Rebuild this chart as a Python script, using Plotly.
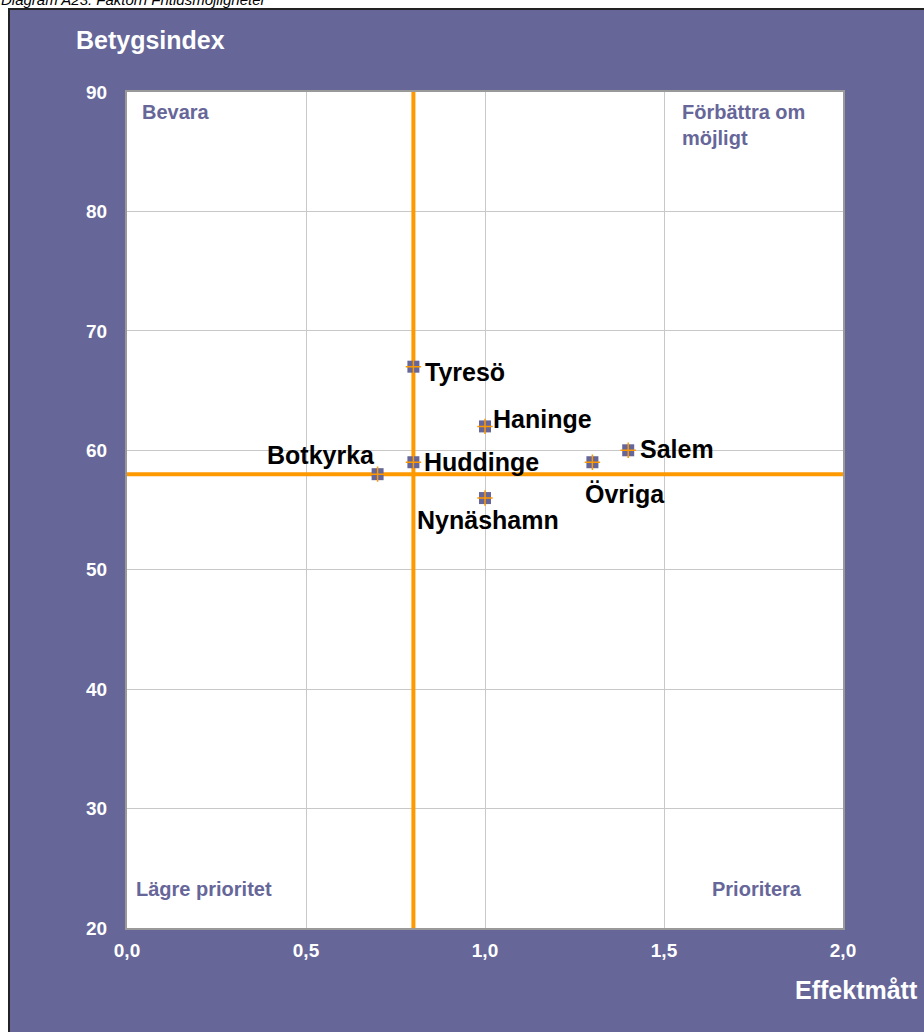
"""Betygsindex mot effektmått – kvadrantdiagram."""

import plotly.graph_objects as go

# Data
kommuner = ["Tyresö", "Haninge", "Salem", "Huddinge", "Övriga", "Botkyrka", "Nynäshamn"]
effektmatt = [0.8, 1.0, 1.4, 0.8, 1.3, 0.7, 1.0]
betygsindex = [67, 62, 60, 59, 59, 58, 56]

snitt_effekt = 0.8
snitt_betyg = 58

x_ticks = [0.0, 0.5, 1.0, 1.5, 2.0]
y_ticks = [20, 30, 40, 50, 60, 70, 80, 90]

PURPLE = "#666699"
ORANGE = "#FF9900"
FONT = "Arial, Liberation Sans, sans-serif"

# Etikettplacering (xanchor, xshift, yshift)
_LABEL_POS = {
    "Tyresö": ("left", 10, -5),
    "Haninge": ("left", 6, 7),
    "Salem": ("left", 10, 1),
    "Huddinge": ("left", 9, 0),
    "Övriga": ("left", -9, -32),
    "Botkyrka": ("right", -1, 19),
    "Nynäshamn": ("center", 3, -22),
}

# Sidans pixlar (sidmarginalen nollställs i post_script)
W, H = 924, 1032
L, R, T, B = 127, 81, 92, 104
pw, ph = W - L - R, H - T - B


def px_x(p):
    return (p - L) / pw


def px_y(p):
    return (H - B - p) / ph


fig = go.Figure()

# Kvadrantlinjer
fig.add_trace(go.Scatter(
    x=[snitt_effekt, snitt_effekt], y=[20, 90], mode="lines",
    line={"color": ORANGE, "width": 4}, hoverinfo="skip", cliponaxis=False,
))
fig.add_trace(go.Scatter(
    x=[0, 2], y=[snitt_betyg, snitt_betyg], mode="lines",
    line={"color": ORANGE, "width": 4}, hoverinfo="skip", cliponaxis=False,
))

# Punkter
fig.add_trace(go.Scatter(
    x=effektmatt, y=betygsindex, mode="markers",
    marker={"symbol": "square", "size": 12, "color": PURPLE, "line": {"width": 0}},
    hovertext=kommuner, hoverinfo="text",
))
fig.add_trace(go.Scatter(
    x=effektmatt, y=betygsindex, mode="markers",
    marker={"symbol": "cross-thin", "size": 11, "line": {"width": 1.5, "color": ORANGE}},
    hoverinfo="skip",
))

annotations = []
for namn, xv, yv in zip(kommuner, effektmatt, betygsindex):
    anchor, xs, ys = _LABEL_POS[namn]
    annotations.append(dict(
        x=xv, y=yv, text=namn, showarrow=False, xanchor=anchor, yanchor="middle",
        xshift=xs, yshift=ys,
        font={"family": FONT, "size": 25, "color": "black", "weight": "bold"},
    ))

# Kvadrantrubriker
quad_font = {"family": FONT, "size": 20, "color": PURPLE, "weight": "bold"}
for txt, xp, yp in [
    ("Bevara", 140, 99),
    ("Förbättra om<br>möjligt", 680, 99),
    ("Lägre prioritet", 134, 876),
    ("Prioritera", 710, 876),
]:
    annotations.append(dict(
        x=px_x(xp), y=px_y(yp), xref="paper", yref="paper", text=txt, showarrow=False,
        xanchor="left", yanchor="top", align="left", font=quad_font,
    ))

# Axeltitlar
title_font = {"family": FONT, "size": 25, "color": "white", "weight": "bold"}
annotations.append(dict(
    x=px_x(74), y=px_y(40), xref="paper", yref="paper", text="Betygsindex",
    showarrow=False, xanchor="left", yanchor="middle", font=title_font,
))
annotations.append(dict(
    x=px_x(920), y=px_y(990), xref="paper", yref="paper", text="Effektmått",
    showarrow=False, xanchor="right", yanchor="middle", font=title_font,
))

# Diagramrubrik (delvis utanför sidans överkant)
annotations.append(dict(
    x=px_x(-1), y=px_y(0), xref="paper", yref="paper",
    text="<i>Diagram A23: Faktorn Fritidsmöjligheter</i>",
    showarrow=False, xanchor="left", yanchor="middle",
    font={"family": FONT, "size": 15, "color": "black"},
))

shapes = [
    # vit remsa upptill och till vänster
    dict(type="rect", xref="paper", yref="paper", x0=px_x(-5), x1=px_x(W + 5),
         y0=px_y(8), y1=px_y(-5), fillcolor="white", line={"width": 0}, layer="below"),
    dict(type="rect", xref="paper", yref="paper", x0=px_x(-5), x1=px_x(8),
         y0=px_y(H + 5), y1=px_y(-5), fillcolor="white", line={"width": 0}, layer="below"),
    dict(type="line", xref="paper", yref="paper", x0=px_x(8), x1=px_x(W + 5),
         y0=px_y(9), y1=px_y(9), line={"color": "#222222", "width": 2}),
    dict(type="line", xref="paper", yref="paper", x0=px_x(9), x1=px_x(9),
         y0=px_y(8), y1=px_y(H + 5), line={"color": "#222222", "width": 2}),
]

tick_font = {"family": FONT, "size": 19, "color": "white", "weight": "bold"}

fig.update_layout(
    width=W, height=H,
    margin={"l": L, "r": R, "t": T, "b": B, "pad": 0},
    paper_bgcolor=PURPLE,
    plot_bgcolor="white",
    showlegend=False,
    separators=", ",
    annotations=annotations,
    shapes=shapes,
    xaxis={
        "range": [0, 2], "tickvals": x_ticks, "tickformat": ".1f",
        "showgrid": True, "gridcolor": "#c8c8c8", "gridwidth": 1,
        "zeroline": False, "showline": True, "linecolor": "#999999", "linewidth": 2,
        "mirror": True, "ticks": "", "tickfont": tick_font, "ticklabelstandoff": 4,
        "fixedrange": True,
    },
    yaxis={
        "range": [20, 90], "tickvals": y_ticks,
        "showgrid": True, "gridcolor": "#c8c8c8", "gridwidth": 1,
        "zeroline": False, "showline": True, "linecolor": "#999999", "linewidth": 2,
        "mirror": True, "ticks": "", "tickfont": tick_font, "ticklabelstandoff": 14,
        "fixedrange": True,
    },
)

fig.write_html(
    "out.html",
    config={"displayModeBar": False},
    post_script="document.body.style.margin='0';document.body.style.overflow='hidden';",
)
